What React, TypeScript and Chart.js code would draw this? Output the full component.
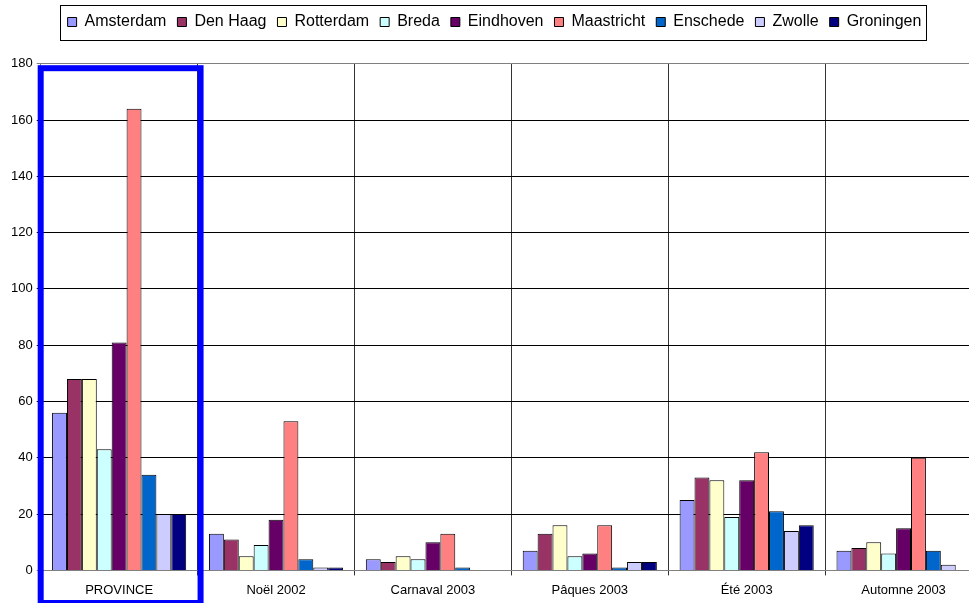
import React, { useEffect, useRef } from 'react';
import { Chart, registerables } from 'chart.js';

Chart.register(...registerables);

const FONT = '"Liberation Sans", Arial, Helvetica, sans-serif';

const categories = ['PROVINCE', 'Noël 2002', 'Carnaval 2003', 'Pâques 2003', 'Été 2003', 'Automne 2003'];
const seriesNames = ['Amsterdam', 'Den Haag', 'Rotterdam', 'Breda', 'Eindhoven', 'Maastricht', 'Enschede', 'Zwolle', 'Groningen'];
const amsterdam = [56, 13, 4, 7, 25, 7];
const denHaag = [68, 11, 3, 13, 33, 8];
const rotterdam = [68, 5, 5, 16, 32, 10];
const breda = [43, 9, 4, 5, 19, 6];
const eindhoven = [81, 18, 10, 6, 32, 15];
const maastricht = [164, 53, 13, 16, 42, 40];
const enschede = [34, 4, 1, 1, 21, 7];
const zwolle = [20, 1, 0, 3, 14, 2];
const groningen = [20, 1, 0, 3, 16, 0];
const seriesColors = ['#9999FF', '#993366', '#FFFFCC', '#CCFFFF', '#660066', '#FF8080', '#0066CC', '#CCCCFF', '#000080'];
const yTicks = [0, 20, 40, 60, 80, 100, 120, 140, 160, 180];

const seriesValues = [amsterdam, denHaag, rotterdam, breda, eindhoven, maastricht, enschede, zwolle, groningen];

const legendFrame = {
  id: 'legendFrame',
  afterDraw(chart: any) {
    const lg = chart.legend;
    const hb = lg && lg.legendHitBoxes;
    if (!hb || !hb.length) return;
    const first = hb[0];
    const last = hb[hb.length - 1];
    const cy = first.top + first.height / 2;
    const ctx = chart.ctx;
    const left = Math.round(first.left - 8) + 0.5;
    const right = Math.round(last.left + last.width + 5) + 0.5;
    const top = Math.round(cy - 17.5) + 0.5;
    const bottom = Math.round(cy + 17.5) + 0.5;
    ctx.save();
    ctx.strokeStyle = '#000';
    ctx.lineWidth = 1;
    ctx.strokeRect(left, top, right - left, bottom - top);
    ctx.restore();
  },
};

const highlight = {
  id: 'highlight',
  afterDraw(chart: any) {
    const x = chart.scales.x;
    const area = chart.chartArea;
    const c0 = x.getPixelForValue(0);
    const half = (x.getPixelForValue(1) - c0) / 2;
    const left = c0 - half;
    const right = c0 + half + 3;
    const top = area.top + 4.5;
    const bottom = chart.height;
    const ctx = chart.ctx;
    ctx.save();
    ctx.strokeStyle = '#0000FF';
    ctx.lineWidth = 6;
    ctx.strokeRect(left, top, right - left, bottom - top);
    ctx.restore();
  },
};

export default function App() {
  const ref = useRef<HTMLCanvasElement>(null);

  useEffect(() => {
    if (!ref.current) return;
    Chart.defaults.font.family = FONT;
    const chart = new Chart(ref.current, {
      type: 'bar',
      data: {
        labels: categories,
        datasets: seriesNames.map((name, i) => ({
          label: name,
          data: seriesValues[i],
          backgroundColor: seriesColors[i],
          borderColor: '#000',
          borderWidth: 1,
          categoryPercentage: 0.855,
          barPercentage: 1.0,
        })),
      },
      options: {
        responsive: false,
        animation: false,
        devicePixelRatio: 1,
        events: [],
        layout: { padding: { left: 7, right: 8, top: 3, bottom: -2 } },
        plugins: {
          tooltip: { enabled: false },
          legend: {
            position: 'top',
            align: 'center',
            labels: {
              boxWidth: 9,
              boxHeight: 9,
              padding: 11,
              color: '#000',
              font: { size: 16, family: FONT },
            },
          },
          subtitle: {
            display: true,
            text: '',
            position: 'top',
            weight: 500,
            font: { size: 16, family: FONT },
            padding: { top: 1, bottom: 3.5 },
          } as any,
        },
        scales: {
          x: {
            grid: { offset: true, color: '#333', tickLength: 5, drawTicks: true },
            border: { color: '#808080' },
            ticks: { color: '#000', font: { size: 13, family: FONT }, padding: 7, maxRotation: 0, autoSkip: false },
          },
          y: {
            min: 0,
            max: 180,
            afterBuildTicks: (axis: any) => {
              axis.ticks = yTicks.map((v) => ({ value: v }));
            },
            grid: {
              color: (ctx: any) =>
                ctx.tick && (ctx.tick.value === 180 || ctx.tick.value === 0) ? '#808080' : '#000',
              tickLength: 4,
              drawTicks: true,
            },
            border: { color: '#808080' },
            ticks: { color: '#000', font: { size: 13, family: FONT }, padding: 4 },
          },
        },
      },
      plugins: [legendFrame, highlight],
    } as any);
    return () => chart.destroy();
  }, []);

  return (
    <div style={{ position: 'fixed', left: 0, top: 0, width: 969, height: 603, overflow: 'hidden', background: '#fff' }}>
      <canvas ref={ref} width={990} height={603} style={{ display: 'block' }} />
    </div>
  );
}
